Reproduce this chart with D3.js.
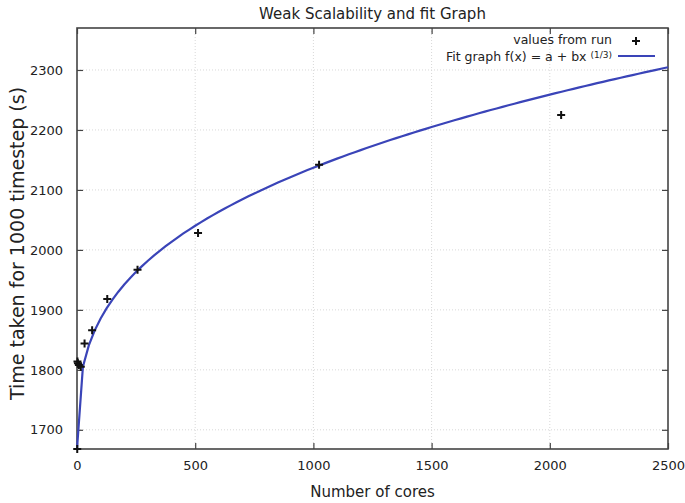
<!DOCTYPE html>
<html>
<head>
<meta charset="utf-8">
<script src="https://cdn.jsdelivr.net/npm/d3@7"></script>
<style>
  html, body { margin: 0; padding: 0; background: #fff; }
  svg { display: block; font-family: "DejaVu Sans", sans-serif; }
</style>
</head>
<body>
<svg id="chart" width="685" height="503"></svg>
<script>
// Measured run times (seconds for 1000 timesteps) against core count
const cores = [1, 2, 4, 8, 16, 32, 64, 128, 256, 512, 1024, 2048];
const times = [1668, 1814, 1811, 1808, 1805, 1844, 1866, 1918, 1967, 2028, 2142, 2225];

// Fitted model f(x) = a + b * x^(1/3)
const fitA = 1668;
const fitB = 46.9;
const fitSamples = 100;

const xTicks = [0, 500, 1000, 1500, 2000, 2500];
const yTicks = [1700, 1800, 1900, 2000, 2100, 2200, 2300];

const titleText = "Weak Scalability and fit Graph";
const xLabel = "Number of cores";
const yLabel = "Time taken for 1000 timestep (s)";
const legendPoints = "values from run";
const legendFit = "Fit graph f(x) = a + bx";
const legendFitExp = "(1/3)";

const margin = { left: 77, right: 17, top: 28, bottom: 54 };
const W = 685, H = 503;
const innerW = W - margin.left - margin.right;
const innerH = H - margin.top - margin.bottom;

const svg = d3.select("#chart");
const g = svg.append("g").attr("transform", `translate(${margin.left},${margin.top})`);

const x = d3.scaleLinear().domain([0, 2500]).range([0, innerW]);
const y = d3.scaleLinear().domain([1668, 2370]).range([innerH, 0]);

const fitData = d3.range(fitSamples + 1).map(i => {
  const xv = 2500 * i / fitSamples;
  return [xv, fitA + fitB * Math.cbrt(xv)];
});

// Dotted grid
const gridColor = "#d8d8d8";
g.append("g").selectAll("line").data(xTicks.slice(1, -1)).join("line")
  .attr("x1", d => x(d)).attr("x2", d => x(d))
  .attr("y1", 0).attr("y2", innerH)
  .attr("stroke", gridColor).attr("stroke-width", 1).attr("stroke-dasharray", "1,2");
g.append("g").selectAll("line").data(yTicks).join("line")
  .attr("x1", 0).attr("x2", innerW)
  .attr("y1", d => y(d)).attr("y2", d => y(d))
  .attr("stroke", gridColor).attr("stroke-width", 1).attr("stroke-dasharray", "1,2");

// Axes with inward ticks, mirrored on top and right
const axisColor = "#444";
const tickLen = 6;
const fmt = d3.format("d");
const xAxis = g.append("g").attr("transform", `translate(0,${innerH})`)
  .call(d3.axisBottom(x).tickValues(xTicks).tickFormat(fmt).tickSizeInner(-tickLen).tickSizeOuter(0).tickPadding(12));
const yAxis = g.append("g")
  .call(d3.axisLeft(y).tickValues(yTicks).tickFormat(fmt).tickSizeInner(-tickLen).tickSizeOuter(0).tickPadding(14));
const xTop = g.append("g")
  .call(d3.axisTop(x).tickValues(xTicks).tickSizeInner(-tickLen).tickSizeOuter(0).tickFormat(""));
const yRight = g.append("g").attr("transform", `translate(${innerW},0)`)
  .call(d3.axisRight(y).tickValues(yTicks).tickSizeInner(-tickLen).tickSizeOuter(0).tickFormat(""));

[xAxis, yAxis, xTop, yRight].forEach(a => {
  a.select(".domain").remove();
  a.selectAll(".tick line").attr("stroke", axisColor).attr("stroke-width", 1.2);
  a.selectAll(".tick text").attr("fill", "#222").style("font-size", "13px")
    .style("font-family", "'DejaVu Sans', sans-serif");
});

// Border
g.append("rect").attr("x", 0).attr("y", 0).attr("width", innerW).attr("height", innerH)
  .attr("fill", "none").attr("stroke", axisColor).attr("stroke-width", 1.6);

// Fit curve
const lineColor = "#3a44b8";
g.append("path").datum(fitData)
  .attr("fill", "none").attr("stroke", lineColor).attr("stroke-width", 2.2)
  .attr("d", d3.line().x(d => x(d[0])).y(d => y(d[1])));

// Data points as plus markers
const plus = (sel, s) => sel.attr("d", `M${-s},0H${s}M0,${-s}V${s}`);
g.append("g").selectAll("path").data(cores.map((c, i) => [c, times[i]])).join("path")
  .attr("transform", d => `translate(${x(d[0])},${y(d[1])})`)
  .call(plus, 4).attr("stroke", "#111").attr("stroke-width", 2).attr("fill", "none");

// Title and axis labels
svg.append("text").attr("x", margin.left + innerW / 2).attr("y", 19)
  .attr("text-anchor", "middle").style("font-size", "15px").attr("fill", "#222").text(titleText);
svg.append("text").attr("x", margin.left + innerW / 2).attr("y", 497)
  .attr("text-anchor", "middle").style("font-size", "15px").attr("fill", "#222").text(xLabel);
svg.append("text").attr("transform", `translate(24,${margin.top + innerH / 2 + 5}) rotate(-90)`)
  .attr("text-anchor", "middle").style("font-size", "19px").attr("fill", "#222").text(yLabel);

// Legend
const legX = 612;
svg.append("text").attr("x", legX).attr("y", 44).attr("text-anchor", "end")
  .style("font-size", "12.5px").attr("fill", "#222").text(legendPoints);
svg.append("path").attr("transform", "translate(636,41)")
  .call(plus, 4).attr("stroke", "#111").attr("stroke-width", 2).attr("fill", "none");
const fitLabel = svg.append("text").attr("x", legX).attr("y", 61).attr("text-anchor", "end")
  .style("font-size", "12.5px").attr("fill", "#222");
fitLabel.append("tspan").text(legendFit + " ");
fitLabel.append("tspan").attr("dy", -3).style("font-size", "9px").text(legendFitExp);
svg.append("line").attr("x1", 618).attr("x2", 655).attr("y1", 56).attr("y2", 56)
  .attr("stroke", lineColor).attr("stroke-width", 2.2);
</script>
</body>
</html>
